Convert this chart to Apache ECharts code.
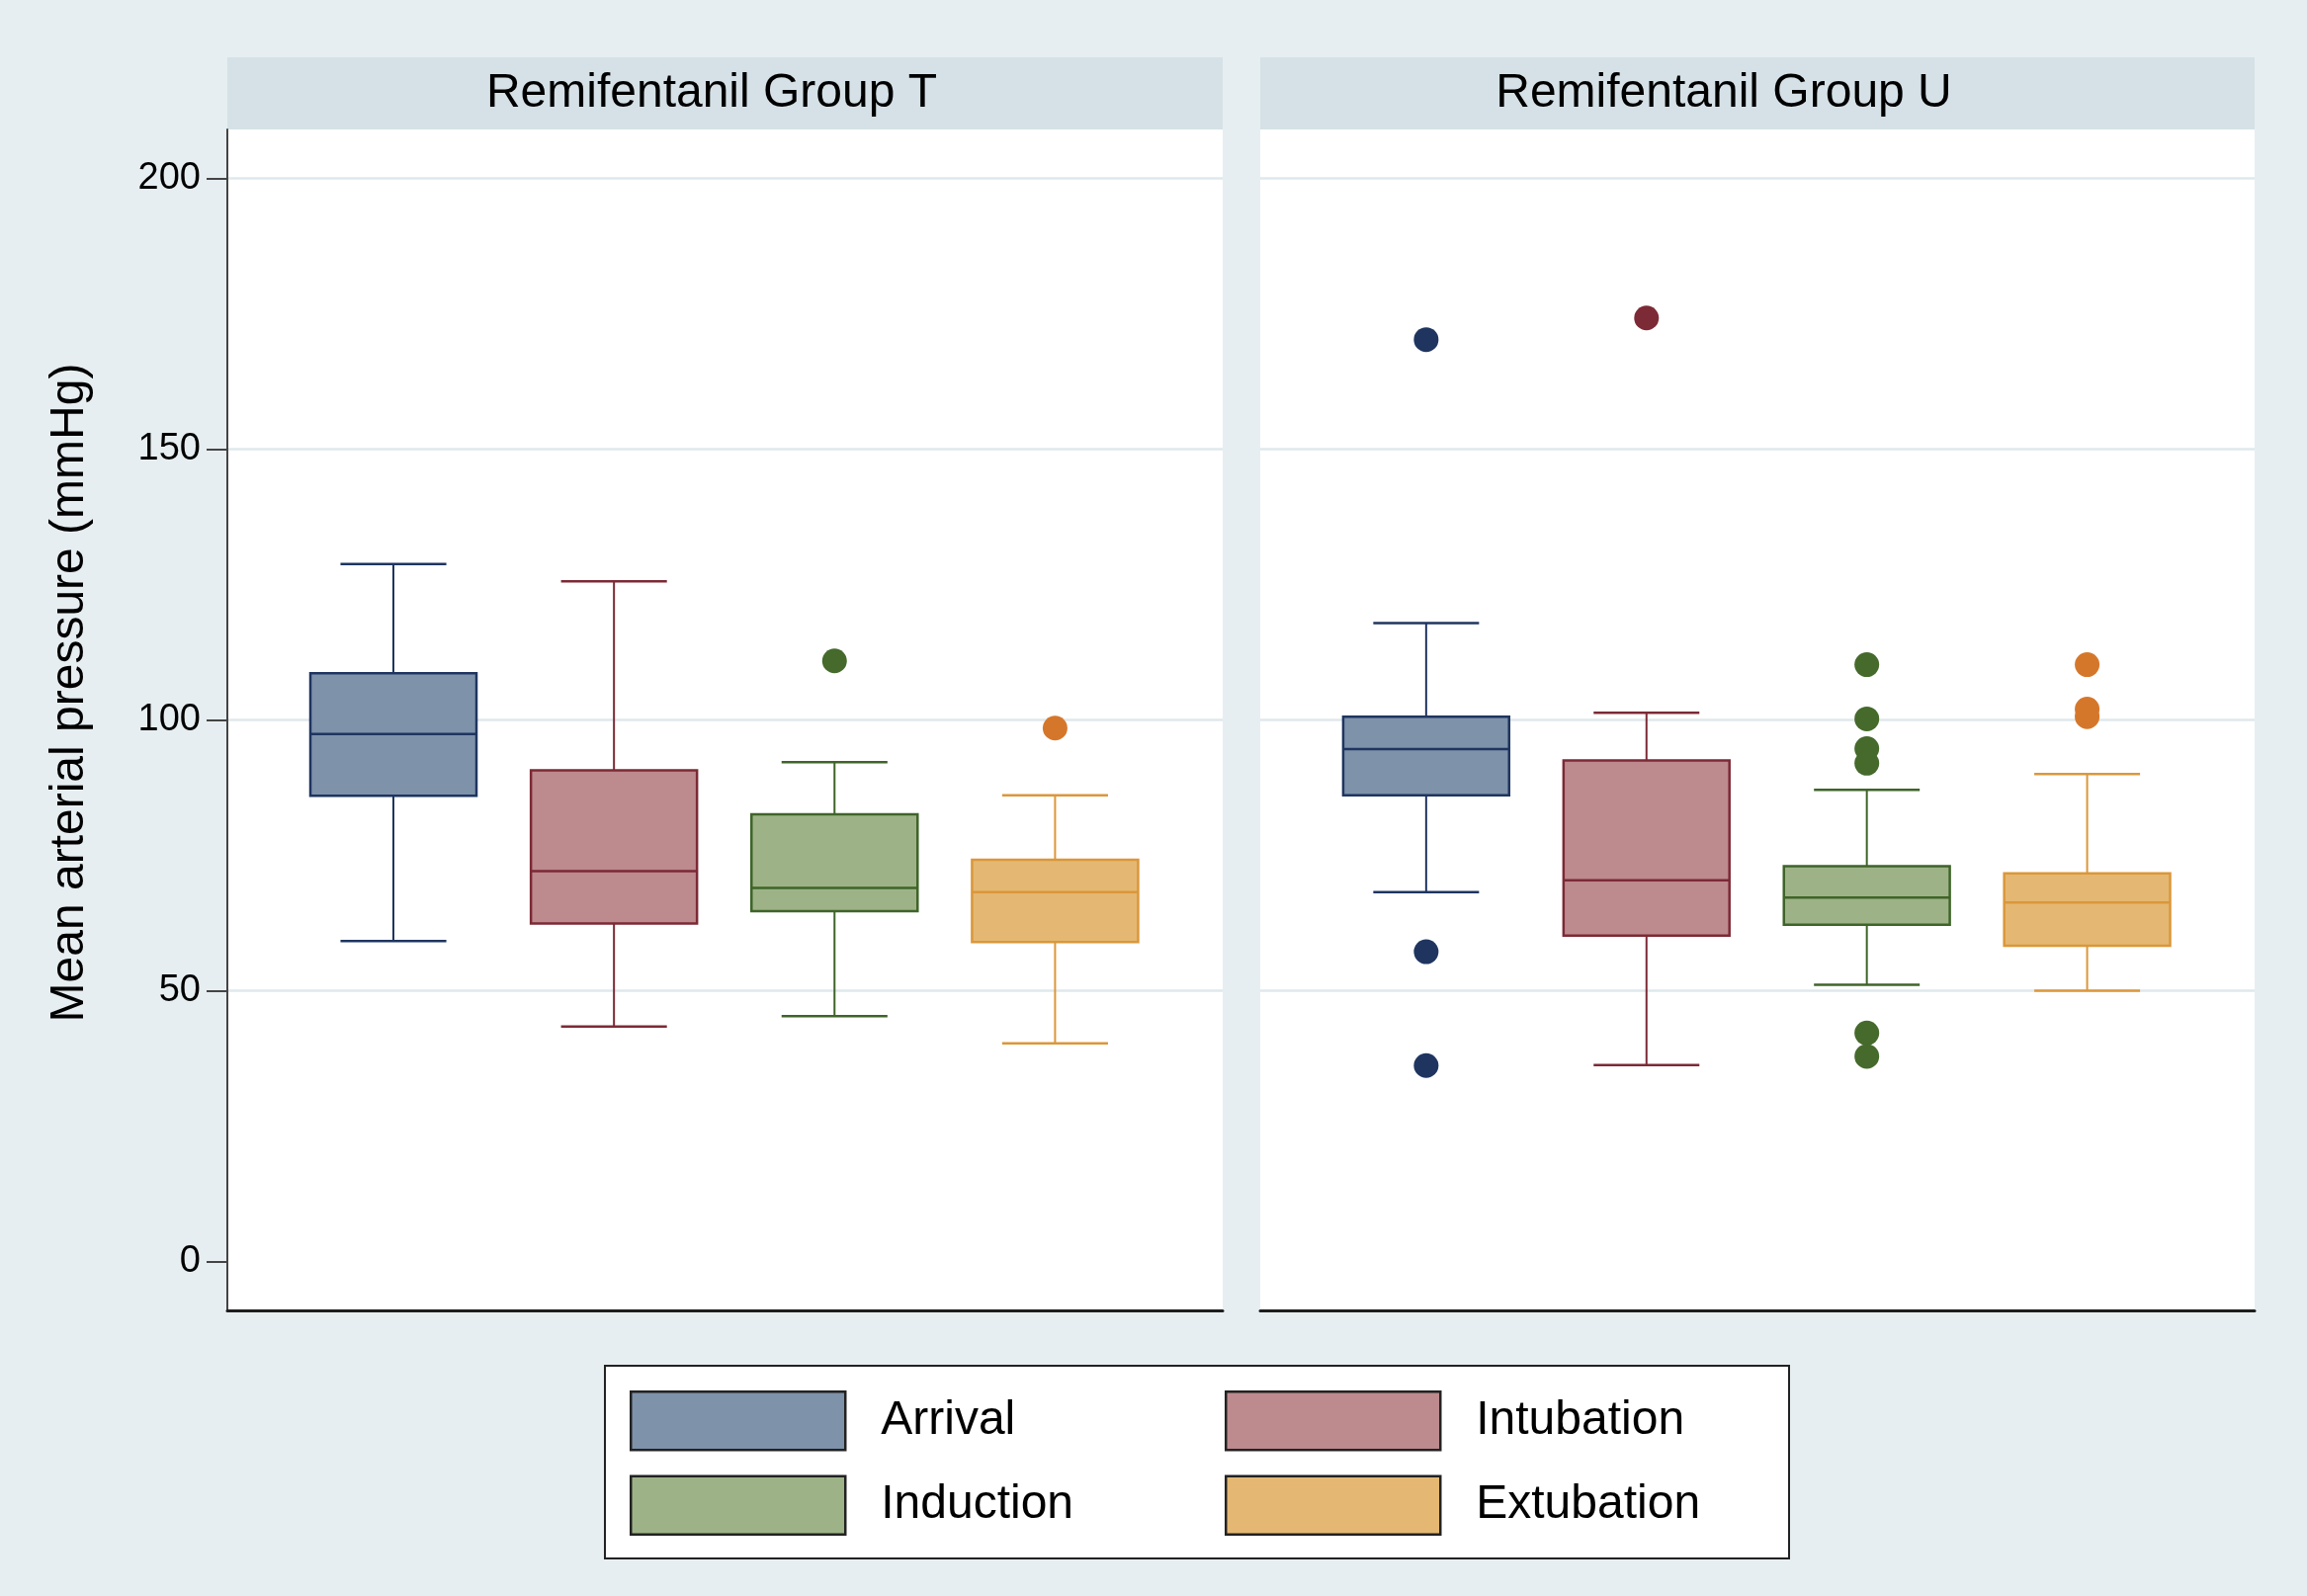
<!DOCTYPE html>
<html>
<head>
<meta charset="utf-8">
<script src="https://cdn.jsdelivr.net/npm/echarts@6/dist/echarts.min.js"></script>
<style>
html, body { margin: 0; padding: 0; background: #e7eef1; }
#chart { width: 2334px; height: 1615px; }
</style>
</head>
<body>
<div id="chart"></div>
<script>
// ---------- data ----------
const categories = ['Arrival', 'Intubation', 'Induction', 'Extubation'];
const panelTitles = ['Remifentanil Group T', 'Remifentanil Group U'];
const yTicks = [0, 50, 100, 150, 200];
const yTitle = 'Mean arterial pressure (mmHg)';

// [lower whisker, Q1, median, Q3, upper whisker]
const groupT_Arrival    = [59.2, 86.0, 97.4, 108.6, 128.8];
const groupT_Intubation = [43.4, 62.4, 72.1, 90.7, 125.6];
const groupT_Induction  = [45.3, 64.7, 69.0, 82.6, 92.2];
const groupT_Extubation = [40.3, 59.0, 68.2, 74.2, 86.1];

const groupU_Arrival    = [68.2, 86.1, 94.6, 100.6, 117.9];
const groupU_Intubation = [36.3, 60.2, 70.4, 92.5, 101.3];
const groupU_Induction  = [51.1, 62.2, 67.2, 73.0, 87.1];
const groupU_Extubation = [50.0, 58.3, 66.3, 71.7, 90.0];

// outliers
const outT_Arrival    = [];
const outT_Intubation = [];
const outT_Induction  = [110.9];
const outT_Extubation = [98.5];

const outU_Arrival    = [170.2, 57.2, 36.2];
const outU_Intubation = [174.2];
const outU_Induction  = [110.2, 100.2, 94.7, 92.0, 42.2, 37.9];
const outU_Extubation = [110.2, 102.0, 100.6];

// legend columns
const legendColumn1 = ['Arrival', 'Induction'];
const legendColumn2 = ['Intubation', 'Extubation'];

// ---------- styles ----------
const fillColors    = ['#7e92aa', '#bd8a8e', '#9db387', '#e4b873'];
const strokeColors  = ['#1f3560', '#7c2a35', '#3f6429', '#db973a'];
const outlierColors = ['#1f3560', '#7c2a35', '#456a2c', '#d5772b'];

const boxes = [
  [groupT_Arrival, groupT_Intubation, groupT_Induction, groupT_Extubation],
  [groupU_Arrival, groupU_Intubation, groupU_Induction, groupU_Extubation]
];
const outliers = [
  [outT_Arrival, outT_Intubation, outT_Induction, outT_Extubation],
  [outU_Arrival, outU_Intubation, outU_Induction, outU_Extubation]
];

const FONT = '"Liberation Sans", Arial, Helvetica, sans-serif';
const panels = [
  { left: 230, width: 1007 },
  { left: 1275, width: 1006 }
];
const plotTop = 131, plotBottom = 1326;
const headerTop = 58;
const titleCenters = [720, 1744];

function makeRender(fill, stroke) {
  return function (params, api) {
    const x = api.value(0);
    const low = api.coord([x, api.value(1)]);
    const q1 = api.coord([x, api.value(2)]);
    const med = api.coord([x, api.value(3)]);
    const q3 = api.coord([x, api.value(4)]);
    const high = api.coord([x, api.value(5)]);
    const unit = api.size([1, 0])[0];
    const bw = unit * 0.753;
    const cw = unit * 0.48;
    const cx = med[0];
    return {
      type: 'group',
      children: [
        { type: 'line', shape: { x1: cx, y1: high[1], x2: cx, y2: q3[1] }, style: { stroke: stroke, lineWidth: 2 } },
        { type: 'line', shape: { x1: cx, y1: q1[1], x2: cx, y2: low[1] }, style: { stroke: stroke, lineWidth: 2 } },
        { type: 'line', shape: { x1: cx - cw / 2, y1: high[1], x2: cx + cw / 2, y2: high[1] }, style: { stroke: stroke, lineWidth: 2.5 } },
        { type: 'line', shape: { x1: cx - cw / 2, y1: low[1], x2: cx + cw / 2, y2: low[1] }, style: { stroke: stroke, lineWidth: 2.5 } },
        { type: 'rect', shape: { x: cx - bw / 2, y: q3[1], width: bw, height: q1[1] - q3[1] }, style: { fill: fill, stroke: stroke, lineWidth: 2.5 } },
        { type: 'line', shape: { x1: cx - bw / 2, y1: med[1], x2: cx + bw / 2, y2: med[1] }, style: { stroke: stroke, lineWidth: 2.5 } }
      ]
    };
  };
}

const grids = panels.map(p => ({
  left: p.left, width: p.width, top: plotTop, height: plotBottom - plotTop,
  show: true, backgroundColor: '#ffffff', borderWidth: 0
}));

const xAxes = panels.map((p, i) => ({
  type: 'value', gridIndex: i, min: -0.753, max: 3.76,
  axisLine: { show: true, onZero: false, lineStyle: { color: '#1e1e1e', width: 3 } },
  axisTick: { show: false }, axisLabel: { show: false }, splitLine: { show: false }
}));

const yAxes = panels.map((p, i) => ({
  type: 'value', gridIndex: i, min: -9, max: 209,
  axisLine: { show: i === 0, onZero: false, lineStyle: { color: '#444', width: 2 } },
  axisTick: { show: i === 0, length: 21, customValues: yTicks, lineStyle: { color: '#444', width: 2 } },
  axisLabel: { show: i === 0, customValues: yTicks, margin: 27, fontSize: 38, fontFamily: FONT, color: '#000' },
  splitLine: { show: true, showMinLine: false, lineStyle: { color: '#dfe8ec', width: 2.5 } }
}));

const series = [];
for (let p = 0; p < 2; p++) {
  for (let c = 0; c < categories.length; c++) {
    series.push({
      name: categories[c], type: 'custom', xAxisIndex: p, yAxisIndex: p,
      itemStyle: { color: fillColors[c], borderColor: strokeColors[c] },
      encode: { x: 0, y: [1, 2, 3, 4, 5] },
      data: [[c].concat(boxes[p][c])],
      renderItem: makeRender(fillColors[c], strokeColors[c]),
      z: 2
    });
    if (outliers[p][c].length) {
      series.push({
        name: categories[c] + ' outliers', type: 'scatter', xAxisIndex: p, yAxisIndex: p,
        symbol: 'circle', symbolSize: 25,
        itemStyle: { color: outlierColors[c], opacity: 1 },
        data: outliers[p][c].map(v => [c, v]),
        z: 3
      });
    }
  }
}

const graphics = [];
panels.forEach((p, i) => {
  graphics.push({
    type: 'rect', shape: { x: p.left, y: headerTop, width: p.width, height: plotTop - headerTop },
    style: { fill: '#d5e1e7' }, silent: true
  });
  graphics.push({
    type: 'text', x: titleCenters[i], y: 95,
    style: { text: panelTitles[i], fontSize: 48, fontFamily: FONT, fill: '#000',
      align: 'center', verticalAlign: 'middle', textAlign: 'center', textVerticalAlign: 'middle' }
  });
});
graphics.push({
  type: 'text', x: 71, y: 701, rotation: Math.PI / 2,
  style: { text: yTitle, fontSize: 48, fontFamily: FONT, fill: '#000',
    align: 'center', verticalAlign: 'middle', textAlign: 'center', textVerticalAlign: 'middle' }
});
// legend frame
graphics.push({
  type: 'rect', z: -1, shape: { x: 612, y: 1382, width: 1198, height: 195 },
  style: { fill: '#ffffff', stroke: '#222', lineWidth: 2 }, silent: true
});

function legendItems(names) {
  return names.map(name => {
    const c = categories.indexOf(name);
    return {
      name: name, icon: 'rect',
      itemStyle: { color: fillColors[c], borderColor: '#222', borderWidth: 2.5 }
    };
  });
}
function makeLegend(names, left) {
  return {
    data: legendItems(names),
    left: left, top: 1407,
    orient: 'vertical',
    itemWidth: 217, itemHeight: 59, itemGap: 24,
    padding: 0,
    selectedMode: false,
    textStyle: { fontSize: 48, fontFamily: FONT, color: '#000', padding: [0, 0, 0, 31] }
  };
}

const chart = echarts.init(document.getElementById('chart'), null, { renderer: 'canvas' });
chart.setOption({
  backgroundColor: '#e7eef1',
  animation: false,
  grid: grids,
  xAxis: xAxes,
  yAxis: yAxes,
  series: series,
  graphic: graphics,
  legend: [makeLegend(legendColumn1, 637), makeLegend(legendColumn2, 1239)]
});
</script>
</body>
</html>
